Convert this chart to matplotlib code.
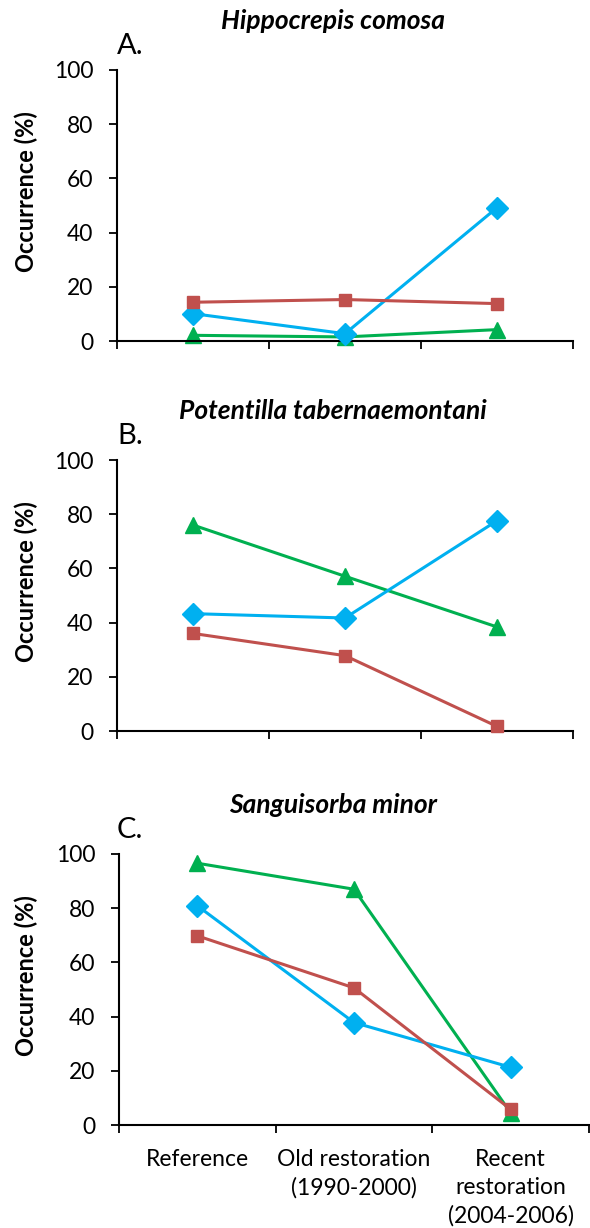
import matplotlib
matplotlib.use("Agg")
import matplotlib.pyplot as plt

plt.rcParams['font.family'] = ['Lato', 'DejaVu Sans']

categories = ["Reference", "Old restoration\n(1990-2000)", "Recent\nrestoration\n(2004-2006)"]
titles = ["Hippocrepis comosa", "Potentilla tabernaemontani", "Sanguisorba minor"]
panel_letters = ["A.", "B.", "C."]

# values per panel: blue (diamond), red (square), green (triangle)
blue_A = [10.1, 2.7, 49.2]
red_A = [14.3, 15.3, 13.8]
green_A = [2.1, 1.5, 4.2]

blue_B = [43.3, 41.7, 77.6]
red_B = [36.0, 27.8, 1.7]
green_B = [76.0, 57.1, 38.4]

blue_C = [80.9, 37.8, 21.3]
red_C = [69.8, 50.6, 5.8]
green_C = [96.6, 87.0, 4.5]

yticks = [0, 20, 40, 60, 80, 100]

W, H = 590, 1228
fig = plt.figure(figsize=(W / 100, H / 100), dpi=100)

# pixel boxes: left, right, top(100), bottom(0)
boxes = [(117, 573, 70, 341), (117, 573, 460, 731), (119, 589, 854, 1125)]
data = [(blue_A, red_A, green_A), (blue_B, red_B, green_B), (blue_C, red_C, green_C)]

BLUE = "#00B0F0"
RED = "#C0504D"
GREEN = "#00B050"

for i, ((l, r, t, b), (bl, rd, gr)) in enumerate(zip(boxes, data)):
    ax = fig.add_axes([l / W, 1 - b / H, (r - l) / W, (b - t) / H])
    x = [0.5, 1.5, 2.5]
    ax.plot(x, bl, color=BLUE, lw=2.2, marker="D", ms=11, zorder=3, clip_on=False)
    ax.plot(x, rd, color=RED, lw=2.2, marker="s", ms=8.5, zorder=4, clip_on=False)
    ax.plot(x, gr, color=GREEN, lw=2.2, marker="^", ms=11, zorder=2, clip_on=False)
    ax.set_xlim(0, 3)
    ax.set_ylim(0, 100)
    ax.set_yticks(yticks)
    ax.set_yticklabels([str(v) for v in yticks], fontsize=16.5)
    ax.set_xticks([0, 1, 2, 3])
    ax.set_xticklabels([])
    ax.tick_params(axis='both', direction='out', length=6, width=1.3, color='black')
    ax.tick_params(axis='y', pad=11)
    for s in ['top', 'right']:
        ax.spines[s].set_visible(False)
    for s in ['left', 'bottom']:
        ax.spines[s].set_linewidth(1.5)
    if i == 2:
        ax.set_xticks(x, minor=True)
        ax.set_xticklabels(categories, minor=True, fontsize=16.5, linespacing=1.42, va='top')
        ax.tick_params(axis='x', which='minor', length=0, pad=17)
    ax.set_ylabel("Occurrence (%)", fontsize=17, fontweight='bold')
    ax.yaxis.set_label_coords((38 - l) / (r - l), 0.55)
    fig.text(333 / W, 1 - (t - 49) / H, titles[i], fontsize=19, fontweight='bold',
             fontstyle='italic', ha='center', va='center')
    fig.text(117 / W, 1 - (t - 24) / H, panel_letters[i], fontsize=21, ha='left', va='center')

fig.savefig("out.png", dpi=100)
